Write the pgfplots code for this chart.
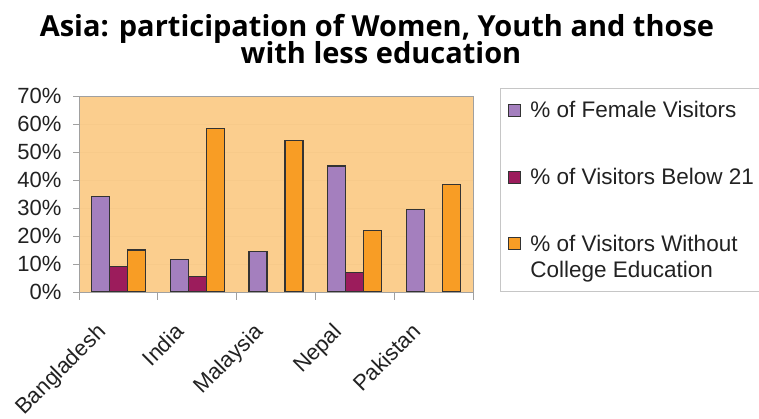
\documentclass[border=0pt]{standalone}
\usepackage{pgfplots}
\usepackage{pgfplotstable}
\pgfplotsset{compat=1.18}
\usepackage{fontspec}
\setmainfont{Liberation Sans}
\newfontfamily\titlefont{Open Sans}

\definecolor{plotbg}{HTML}{FBCE8E}
\definecolor{gridc}{HTML}{F7CA8A}
\definecolor{female}{HTML}{A47FBE}
\definecolor{young}{HTML}{9C1C5C}
\definecolor{nocollege}{HTML}{F89D25}
\definecolor{framegray}{HTML}{A0A0A0}
\definecolor{barline}{HTML}{333333}
\definecolor{txt}{HTML}{222222}

% Share of visitors by country (in percent)
\pgfplotstableread{
x female young nocollege
0 34   9   15
1 11.5 5.5 58.5
2 14.5 nan 54
3 45   7   22
4 29.5 nan 38.5
}\visitors

\pgfplotsset{
  legend square/.style={legend image code/.code={\draw[##1, line width=1pt] (0pt,-6pt) rectangle (12pt,6pt);}},
  legend square up/.style={legend image code/.code={\draw[##1, line width=1pt] (0pt,7pt) rectangle (12pt,19pt);}},
}

\begin{document}
\begin{tikzpicture}
\path[use as bounding box, clip] (0pt,0pt) rectangle (759pt,419pt);
\fill[white] (0pt,0pt) rectangle (759pt,419pt);
\node[font=\titlefont\bfseries\fontsize{29}{30}\selectfont, anchor=base, text=black]
  at (377pt,382pt) {Asia: participation of Women, Youth and those};
\node[font=\titlefont\bfseries\fontsize{29}{30}\selectfont, anchor=base, text=black]
  at (381pt,355pt) {with less education};
\begin{axis}[
  at={(79pt,127pt)}, anchor=south west,
  scale only axis, width=394pt, height=196pt,
  axis background/.style={fill=plotbg},
  axis line style={framegray, line width=0.8pt},
  ybar=0pt, bar width=18pt,
  xmin=-0.5, xmax=4.5, ymin=0, ymax=70,
  xtick={0,...,4},
  xticklabels={Bangladesh,India,Malaysia,Nepal,Pakistan},
  minor xtick={-0.5,0.5,1.5,2.5,3.5,4.5},
  major x tick style={draw=none},
  ytick={0,10,...,70},
  yticklabels={0\%,10\%,20\%,30\%,40\%,50\%,60\%,70\%},
  tick align=outside, xtick pos=left, ytick pos=left,
  major tick length=6pt, minor tick length=8pt,
  tick style={framegray, line width=0.8pt},
  ymajorgrids, major grid style={gridc, line width=0.8pt},
  tick label style={font=\fontsize{22}{24}\selectfont, text=txt},
  yticklabel style={xshift=-8pt},
  xticklabel style={xshift=-23pt, yshift=-19pt, rotate=45, anchor=north east},
  legend style={at={(1.0685,1.0408)}, anchor=north west, draw=framegray!60,
    line width=0.8pt, fill=white, inner xsep=8pt, inner ysep=12pt,
    font=\fontsize{22.5}{26}\selectfont, text=txt,
    row sep=47pt, nodes={align=left, inner sep=1pt},
    /tikz/every odd column/.append style={column sep=8pt}},
  legend cell align=left,
  every axis plot/.append style={draw=barline, line width=1.3pt},
  legend square,
]
\addplot[fill=female] table[x=x, y=female] {\visitors};
\addlegendentry{\% of Female Visitors}
\addplot[fill=young] table[x=x, y=young] {\visitors};
\addlegendentry{\% of Visitors Below 21}
\addplot[fill=nocollege, legend square up] table[x=x, y=nocollege] {\visitors};
\addlegendentry{\% of Visitors Without\\College Education}
\end{axis}
\end{tikzpicture}
\end{document}
